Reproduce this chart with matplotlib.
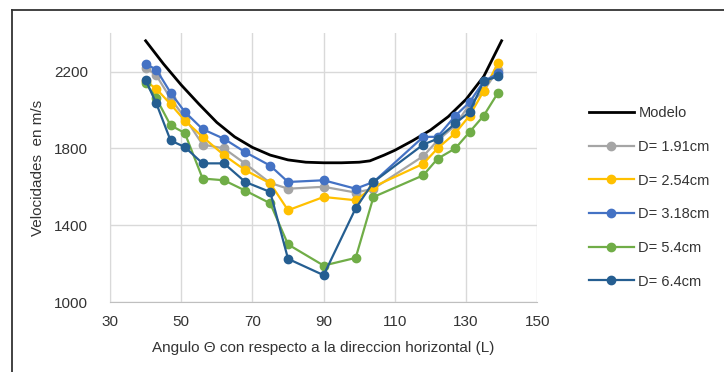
import matplotlib.pyplot as plt
from matplotlib.lines import Line2D

plt.rcParams['font.family'] = ['Liberation Sans', 'DejaVu Sans']

# angles (deg) where each sample was measured
angulos = [40, 43, 47, 51, 56, 62, 68, 75, 80, 90, 99, 104, 118, 122, 127, 131, 135, 139]

# model curve
ang_modelo = [40, 45, 50, 55, 60, 65, 70, 75, 80, 85, 90, 95, 100, 103,
              107, 110, 115, 120, 125, 130, 135, 140]
v_modelo = [2360, 2240, 2130, 2030, 1935, 1860, 1805, 1765, 1740, 1728, 1725, 1725,
            1728, 1735, 1765, 1790, 1840, 1895, 1965, 2055, 2175, 2360]

v_191 = [2220, 2180, 2060, 1960, 1820, 1800, 1720, 1620, 1590, 1600, 1570, 1590,
         1760, 1840, 1920, 2030, 2100, 2210]
v_254 = [2150, 2110, 2030, 1945, 1860, 1765, 1686, 1618, 1478, 1547, 1530, 1600,
         1720, 1800, 1880, 1970, 2100, 2245]
v_318 = [2240, 2210, 2090, 1990, 1900, 1850, 1780, 1710, 1625, 1634, 1590, 1625,
         1860, 1860, 1970, 2040, 2150, 2190]
v_54 = [2140, 2060, 1920, 1880, 1643, 1634, 1580, 1514, 1300, 1190, 1230, 1547,
        1660, 1746, 1800, 1885, 1971, 2090]
v_64 = [2155, 2034, 1841, 1807, 1722, 1722, 1625, 1573, 1225, 1140, 1488, 1625,
        1820, 1850, 1930, 1990, 2150, 2175]

series = [
    ('D= 1.91cm', v_191, '#A5A5A5'),
    ('D= 2.54cm', v_254, '#FFC000'),
    ('D= 3.18cm', v_318, '#4472C4'),
    ('D= 5.4cm', v_54, '#70AD47'),
    ('D= 6.4cm', v_64, '#255E91'),
]

fig = plt.figure(figsize=(7.24, 3.72), dpi=100)
ax = fig.add_axes([0.152, 0.188, 0.590, 0.723])

ax.plot(ang_modelo, v_modelo, color='black', lw=2.0, label='Modelo', zorder=3)
for nombre, vals, col in series:
    ax.plot(angulos, vals, color=col, lw=1.6, marker='o', markersize=6,
            label=nombre, zorder=4)

ax.set_xlim(30, 150)
ax.set_ylim(1000, 2400)
ax.set_xticks([30, 50, 70, 90, 110, 130, 150])
ax.set_yticks([1000, 1400, 1800, 2200])
ax.grid(True, color='#D9D9D9', lw=1.0)
ax.set_axisbelow(True)
for s in ['top', 'right']:
    ax.spines[s].set_visible(False)
ax.spines['left'].set_color('#D9D9D9')
ax.spines['bottom'].set_color('#BFBFBF')
ax.tick_params(length=0, labelsize=11, colors='#333333')
ax.tick_params(axis='x', pad=9)
ax.tick_params(axis='y', pad=16)

ax.set_xlabel('Angulo Θ con respecto a la direccion horizontal (L)', fontsize=11,
              color='#333333', labelpad=9)
ax.set_ylabel('Velocidades  en m/s', fontsize=11, color='#333333', labelpad=6)

fig.legend(loc='upper left', bbox_to_anchor=(0.795, 0.75), frameon=False,
           fontsize=10.5, handlelength=3.1, handletextpad=0.3, labelspacing=1.35,
           labelcolor='#333333')

# frame of the original picture: only top and left edges show
yt = 1 - 10 / 372
xl = 12 / 724
fig.add_artist(Line2D([xl, 1.0], [yt, yt], transform=fig.transFigure,
                      color='#333333', lw=1.3))
fig.add_artist(Line2D([xl, xl], [0.0, yt], transform=fig.transFigure,
                      color='#333333', lw=1.3))

fig.savefig('out.png', dpi=100)
